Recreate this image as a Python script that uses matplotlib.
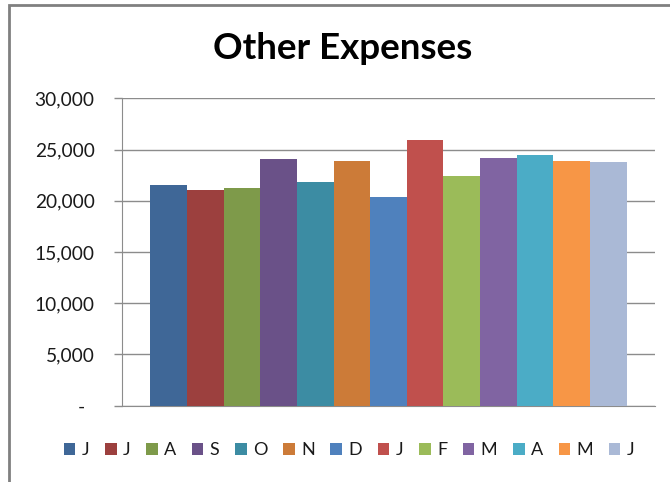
import matplotlib
matplotlib.use("Agg")
import matplotlib.pyplot as plt
from matplotlib.patches import Rectangle
from matplotlib.ticker import FuncFormatter
import numpy as np

plt.rcParams['font.family'] = ['Lato', 'DejaVu Sans']

# one bar per month, Jul through Jul
months = ['J', 'J', 'A', 'S', 'O', 'N', 'D', 'J', 'F', 'M', 'A', 'M', 'J']
expenses = [21550, 21040, 21230, 24050, 21870, 23850, 20320,
            25940, 22450, 24190, 24510, 23900, 23770]
colors = ['#3F6797', '#9C403E', '#7E9A4A', '#6A5188', '#3C8CA3', '#CC7B38',
          '#4F81BD', '#C0504D', '#9BBB59', '#8064A2', '#4BACC6', '#F79646',
          '#AAB9D6']
yticks = [0, 5000, 10000, 15000, 20000, 25000, 30000]

W, H = 670, 482
fig = plt.figure(figsize=(W / 100, H / 100), dpi=100)
ax = fig.add_axes([122 / W, 1 - 405.7 / H, (655 - 122) / W, (405.7 - 98.3) / H])

x = np.arange(len(expenses))
bars = ax.bar(x, expenses, width=1.0, color=colors, edgecolor='none', zorder=3)

ax.set_xlim(-0.5 - 0.77, len(expenses) - 0.5 + 0.77)
ax.set_ylim(0, 30000)
ax.set_yticks(yticks)


def fmt(v, pos):
    if v == 0:
        return '-  '
    return f'{int(v):,}'


ax.yaxis.set_major_formatter(FuncFormatter(fmt))
ax.set_xticks([])
ax.grid(axis='y', color='#8C8C8C', linewidth=1.0, zorder=0)
ax.tick_params(axis='y', length=5.8, width=1.0, color='#8C8C8C', pad=14,
               labelsize=13.8, labelcolor='#1A1A1A')
for side in ['top', 'right']:
    ax.spines[side].set_visible(False)
ax.spines['left'].set_color('#8C8C8C')
ax.spines['bottom'].set_color('#8C8C8C')

fig.text(343 / W, 1 - 59 / H, 'Other Expenses', ha='center', va='baseline',
         fontsize=26.5, fontweight='bold', color='black')

leg = fig.legend(bars, months, loc='center', bbox_to_anchor=(349 / W, 1 - 450 / H),
                 ncol=len(months), frameon=False, fontsize=13,
                 handlelength=0.65, handleheight=0.65, handletextpad=0.35,
                 columnspacing=0.86, borderaxespad=0)
for t in leg.get_texts():
    t.set_color('#1A1A1A')

# chart frame (Excel border, cut off at right and bottom)
fig.patches.append(Rectangle((9 / W, -0.2), 1.5, 1.2 - 5 / H, transform=fig.transFigure,
                             fill=False, edgecolor='#808080', linewidth=2))

fig.savefig('out.png', dpi=100)
